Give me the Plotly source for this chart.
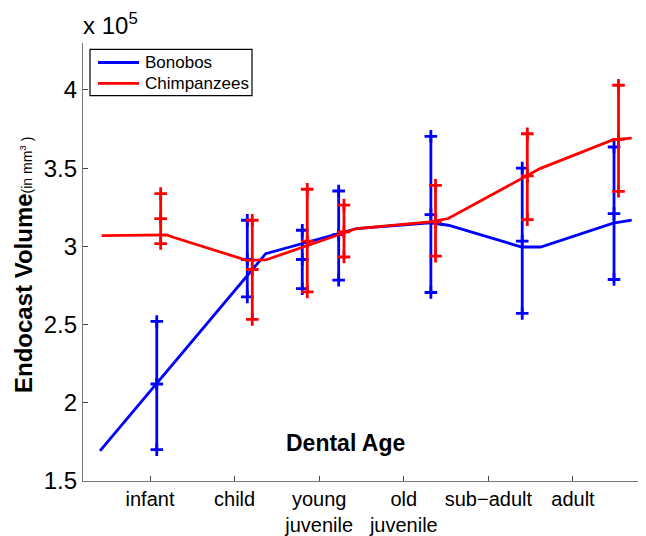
import plotly.graph_objects as go

# ---- data (volumes in mm^3) ----
categories = ["infant", "child", "young<br>juvenile", "old<br>juvenile", "sub\u2212adult", "adult"]
cat_pos = [1, 2, 3, 4, 5, 6]

# error-bar groups (x position on the dental-age scale)
bonobo_x = [1.08, 2.15, 2.80, 3.23, 4.32, 5.40, 6.485]
bonobo_mean = [212000, 291600, 291600, 307500, 320300, 303300, 320900]
bonobo_upper = [252000, 316700, 310300, 335400, 370300, 350000, 363500]
bonobo_lower = [170000, 267700, 273000, 278400, 270500, 257100, 278800]

chimp_x = [1.126, 2.209, 2.859, 3.293, 4.375, 5.46, 6.538]
chimp_mean = [317700, 285200, 303300, 309200, 315600, 345000, 368400]
chimp_upper = [333700, 316700, 336500, 326400, 339000, 372000, 403000]
chimp_lower = [301800, 253300, 270900, 293200, 293700, 317100, 335200]

# trend lines
bonobo_line_x = [0.409, 2.368, 3.443, 4.31, 4.526, 5.394, 5.618, 6.476, 6.694]
bonobo_line_y = [169200, 295300, 311400, 315100, 313500, 299600, 299600, 314900, 316700]
chimp_line_x = [0.429, 1.197, 1.275, 2.143, 2.368, 3.443, 4.31, 4.526, 5.61, 6.476, 6.694]
chimp_line_y = [306900, 307300, 305800, 291100, 291300, 311400, 315600, 317800, 349700, 368200, 369200]

ytick_vals = [150000, 200000, 250000, 300000, 350000, 400000]
ytick_text = ["1.5", "2", "2.5", "3", "3.5", "4"]

series_names = ["Bonobos", "Chimpanzees"]

BLUE = "rgb(0,0,255)"
RED = "rgb(255,0,0)"
FONT = "Liberation Sans, Arial, Helvetica, sans-serif"
LW = 2.8

# page body has an 8px default margin; compensate so the plot area lands
# at the same screen pixels as the reference
OFF = 8
W, H = 646 - OFF, 536 - OFF
L, T, B, R = 83 - OFF, 43 - OFF, 55, 0
PW, PH = W - L - R, H - T - B


def px_x(px):  # screen pixel -> paper x
    return (px - 83) / PW


def px_y(py):  # screen pixel -> paper y
    return (481 - py) / PH


fig = go.Figure()


def add_series(name, color, lx, ly, bx, bmean, bup, blo):
    fig.add_trace(go.Scatter(x=lx, y=ly, mode="lines", name=name,
                             line=dict(color=color, width=LW), showlegend=False))
    fig.add_trace(go.Scatter(
        x=bx, y=bmean, mode="markers", showlegend=False,
        marker=dict(size=1, color=color, opacity=0),
        error_y=dict(type="data", symmetric=False,
                     array=[u - m for u, m in zip(bup, bmean)],
                     arrayminus=[m - l for m, l in zip(bmean, blo)],
                     color=color, thickness=LW, width=0)))
    fig.add_trace(go.Scatter(
        x=bx * 3, y=bup + bmean + blo, mode="markers", showlegend=False,
        marker=dict(symbol="cross-thin", size=9, color=color,
                    line=dict(color=color, width=LW))))


add_series(series_names[0], BLUE, bonobo_line_x, bonobo_line_y,
           bonobo_x, bonobo_mean, bonobo_upper, bonobo_lower)
add_series(series_names[1], RED, chimp_line_x, chimp_line_y,
           chimp_x, chimp_mean, chimp_upper, chimp_lower)

# manual legend (box, line samples, labels)
shapes = [dict(type="rect", xref="paper", yref="paper",
               x0=px_x(90), x1=px_x(252), y0=px_y(95.7), y1=px_y(49.3),
               line=dict(color="black", width=1.2), fillcolor="white", layer="above")]
annotations = []
for name, color, py in zip(series_names, [BLUE, RED], [62.5, 83.3]):
    shapes.append(dict(type="line", xref="paper", yref="paper",
                       x0=px_x(98), x1=px_x(139), y0=px_y(py), y1=px_y(py),
                       line=dict(color=color, width=LW), layer="above"))
    annotations.append(dict(text=name, xref="paper", yref="paper",
                            x=px_x(143), y=px_y(py), xanchor="left", yanchor="middle",
                            showarrow=False, font=dict(size=17, family=FONT)))

annotations += [
    dict(text="x 10<sup>5</sup>", xref="paper", yref="paper", x=0, y=1,
         xanchor="left", yanchor="bottom", yshift=2, xshift=-2, showarrow=False,
         font=dict(size=24, family=FONT)),
    dict(text="<b>Dental Age</b>", xref="paper", yref="paper",
         x=px_x(345), y=px_y(443), xanchor="center", yanchor="middle",
         showarrow=False, font=dict(size=23, family=FONT)),
    dict(text="<b>Endocast Volume</b><span style='font-size:14px'>(in mm<sup>3</sup> )</span>",
         xref="paper", yref="paper", x=px_x(23), y=px_y(265),
         xanchor="center", yanchor="middle", textangle=-90,
         showarrow=False, font=dict(size=24, family=FONT)),
]

fig.update_layout(
    width=W, height=H,
    margin=dict(l=L, r=R, t=T, b=B, autoexpand=False),
    paper_bgcolor="white", plot_bgcolor="white",
    font=dict(family=FONT, color="black"),
    showlegend=False,
    xaxis=dict(range=[0.208, 6.863], tickmode="array", tickvals=cat_pos,
               ticktext=categories, ticks="inside", ticklen=5,
               tickcolor="#444", showline=True, linecolor="#777", linewidth=1.2,
               showgrid=False, zeroline=False, mirror=False,
               tickfont=dict(size=20, family=FONT)),
    yaxis=dict(range=[150000, 430000], tickmode="array", tickvals=ytick_vals,
               ticktext=ytick_text, ticks="inside", ticklen=5,
               tickcolor="#444", showline=True, linecolor="#777", linewidth=1.2,
               showgrid=False, zeroline=False, mirror=False,
               tickfont=dict(size=24, family=FONT)),
    shapes=shapes,
    annotations=annotations,
)

fig.write_html("out.html")
